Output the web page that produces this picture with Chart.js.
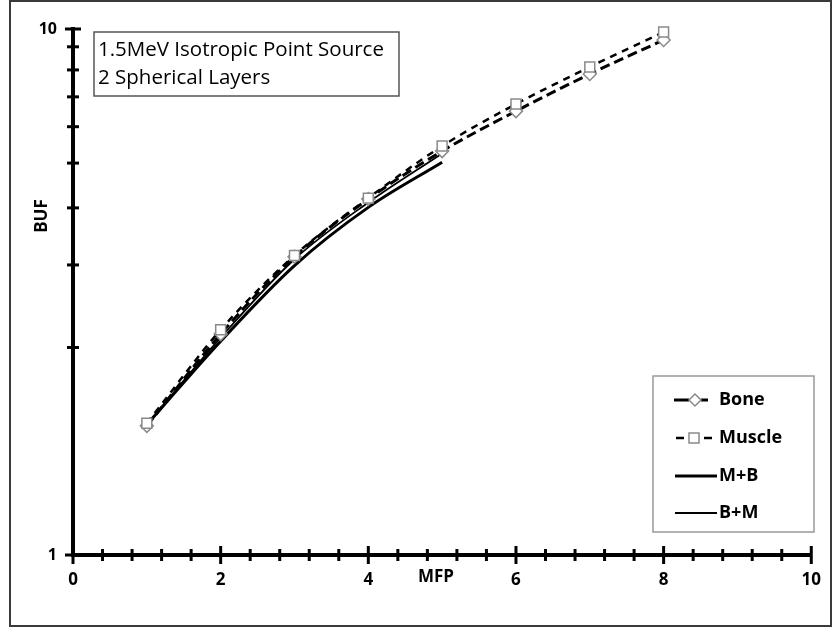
<!DOCTYPE html>
<html>
<head>
<meta charset="utf-8">
<script src="https://cdn.jsdelivr.net/npm/chart.js@4/dist/chart.umd.min.js"></script>
<style>
body{margin:0;background:#fff;}
canvas{display:block;}
</style>
</head>
<body>
<canvas id="grafico" width="836" height="630"></canvas>
<script>
// datos
const mfp = [1, 2, 3, 4, 5, 6, 7, 8];
const bone = [1.76, 2.63, 3.69, 4.75, 5.86, 6.98, 8.21, 9.53];
const muscle = [1.78, 2.68, 3.71, 4.77, 5.99, 7.20, 8.47, 9.87];
const mfpMix = [1, 2, 3, 4, 5];
const mPlusB = [1.77, 2.55, 3.55, 4.58, 5.58];
const bPlusM = [1.77, 2.59, 3.65, 4.68, 5.80];
const xLabels = [0, 2, 4, 6, 8, 10];
const yLabels = [1, 10];
// marcas del eje Y tal como aparecen en la figura
const yTickMarks = [1, 2.48, 3.56, 4.57, 5.56, 6.52, 7.43, 8.36, 9.25, 10];
const seriesNames = ["Bone", "Muscle", "M+B", "B+M"];
const titleLines = ["1.5MeV Isotropic Point Source", "2 Spherical Layers"];

const FONT = "'Open Sans', Lato, sans-serif";

function pts(xs, ys){
  return xs.map(function(x, i){ return {x: x, y: ys[i]}; });
}

/* marcas de los ejes, cruzando la linea */
const ticksPlugin = {
  id: "ticksCruzados",
  afterDraw(chart){
    const ctx = chart.ctx;
    const xs = chart.scales.x, ys = chart.scales.y;
    const area = chart.chartArea;
    ctx.save();
    ctx.strokeStyle = "#000";
    ctx.lineWidth = 3;
    xs.ticks.forEach(function(t){
      const px = xs.getPixelForValue(t.value);
      const major = Math.abs(t.value - Math.round(t.value)) < 1e-6 && Math.round(t.value) % 2 === 0;
      const h = major ? 9 : 6;
      ctx.beginPath();
      ctx.moveTo(px, area.bottom - h);
      ctx.lineTo(px, area.bottom + h);
      ctx.stroke();
    });
    ys.ticks.forEach(function(t){
      const py = ys.getPixelForValue(t.value);
      const big = yLabels.includes(t.value);
      const w = big ? 8 : 6;
      ctx.beginPath();
      ctx.moveTo(area.left - w, py);
      ctx.lineTo(area.left + w, py);
      ctx.stroke();
    });
    ctx.restore();
  }
};

/* textos, recuadro de titulo, leyenda y marco */
const decoPlugin = {
  id: "decoracion",
  afterDraw(chart){
    const ctx = chart.ctx;
    const ds = chart.data.datasets;
    ctx.save();

    // marco exterior
    ctx.strokeStyle = "#3a3a3a";
    ctx.lineWidth = 2;
    ctx.strokeRect(10, 1, 821, 625);

    // titulos de ejes
    ctx.fillStyle = "#000";
    ctx.font = "bold 17px " + FONT;
    ctx.textAlign = "center";
    ctx.textBaseline = "middle";
    ctx.fillText("MFP", 436, 577);
    ctx.save();
    ctx.translate(42, 216);
    ctx.rotate(-Math.PI / 2);
    ctx.fillText("BUF", 0, 0);
    ctx.restore();

    // recuadro del titulo
    ctx.strokeStyle = "#555";
    ctx.lineWidth = 1.5;
    ctx.strokeRect(94, 32, 305, 64);
    ctx.font = "20.5px " + FONT;
    ctx.textAlign = "left";
    ctx.fillStyle = "#000";
    ctx.fillText(titleLines[0], 98, 50);
    ctx.fillText(titleLines[1], 98, 78);

    // leyenda
    ctx.fillStyle = "#fff";
    ctx.fillRect(653, 376, 161, 156);
    ctx.strokeStyle = "#999";
    ctx.lineWidth = 1.5;
    ctx.strokeRect(653, 376, 161, 156);
    const rows = [400, 438, 476, 513];
    seriesNames.forEach(function(name, i){
      const d = ds[i];
      const y = rows[i];
      ctx.save();
      ctx.strokeStyle = "#000";
      ctx.lineWidth = d.borderWidth;
      if (d.borderDash && d.borderDash.length){
        if (d.pointStyle === "rect"){
          ctx.beginPath(); ctx.moveTo(676, y); ctx.lineTo(684, y); ctx.stroke();
          ctx.beginPath(); ctx.moveTo(704, y); ctx.lineTo(712, y); ctx.stroke();
        } else {
          ctx.beginPath(); ctx.moveTo(674, y); ctx.lineTo(689, y); ctx.stroke();
          ctx.beginPath(); ctx.moveTo(701, y); ctx.lineTo(708, y); ctx.stroke();
        }
        ctx.fillStyle = "#fff";
        ctx.strokeStyle = d.pointBorderColor;
        ctx.lineWidth = d.pointBorderWidth;
        ctx.beginPath();
        if (d.pointStyle === "rect"){
          ctx.rect(689, y - 5, 10, 10);
        } else {
          ctx.moveTo(695, y - 6); ctx.lineTo(701, y); ctx.lineTo(695, y + 6); ctx.lineTo(689, y); ctx.closePath();
        }
        ctx.fill(); ctx.stroke();
      } else {
        ctx.beginPath(); ctx.moveTo(675, y); ctx.lineTo(717, y); ctx.stroke();
      }
      ctx.restore();
      ctx.fillStyle = "#000";
      ctx.font = "bold 18px " + FONT;
      ctx.textAlign = "left";
      ctx.fillText(name, 719, y);
    });

    ctx.restore();
  }
};

new Chart(document.getElementById("grafico"), {
  type: "scatter",
  data: {
    datasets: [
      {
        label: seriesNames[0],
        data: pts(mfp, bone),
        showLine: true,
        clip: false,
        borderColor: "#000",
        borderWidth: 3,
        borderDash: [10, 5],
        cubicInterpolationMode: "monotone",
        pointStyle: "rectRot",
        pointRadius: 6.5,
        pointBorderColor: "#8a8a8a",
        pointBackgroundColor: "#fff",
        pointBorderWidth: 1.5,
        order: 1
      },
      {
        label: seriesNames[1],
        data: pts(mfp, muscle),
        showLine: true,
        clip: false,
        borderColor: "#000",
        borderWidth: 2.5,
        borderDash: [7, 6],
        cubicInterpolationMode: "monotone",
        pointStyle: "rect",
        pointRadius: 7,
        pointBorderColor: "#8a8a8a",
        pointBackgroundColor: "#fff",
        pointBorderWidth: 1.5,
        order: 0
      },
      {
        label: seriesNames[2],
        data: pts(mfpMix, mPlusB),
        showLine: true,
        borderColor: "#000",
        borderWidth: 3,
        cubicInterpolationMode: "monotone",
        pointRadius: 0,
        order: 2
      },
      {
        label: seriesNames[3],
        data: pts(mfpMix, bPlusM),
        showLine: true,
        borderColor: "#000",
        borderWidth: 1.8,
        cubicInterpolationMode: "monotone",
        pointRadius: 0,
        order: 3
      }
    ]
  },
  options: {
    responsive: false,
    animation: false,
    devicePixelRatio: 1,
    layout: { padding: { left: 0, top: 29, right: 19, bottom: 0 } },
    plugins: {
      legend: { display: false },
      tooltip: { enabled: false }
    },
    scales: {
      x: {
        type: "linear",
        min: 0,
        max: 10,
        afterFit(scale){ scale.height = 75; },
        border: { color: "#000", width: 4 },
        grid: { drawOnChartArea: false, drawTicks: false },
        ticks: {
          stepSize: 0.4,
          autoSkip: false,
          maxRotation: 0,
          padding: 15,
          color: "#000",
          font: { family: FONT, size: 17, weight: "bold" },
          callback(v){
            const r = Math.round(v);
            return (Math.abs(v - r) < 1e-6 && xLabels.includes(r)) ? String(r) : "";
          }
        }
      },
      y: {
        type: "logarithmic",
        min: 1,
        max: 10,
        afterFit(scale){ scale.width = 73; },
        afterBuildTicks(scale){
          scale.ticks = yTickMarks.map(function(v){ return {value: v}; });
        },
        border: { color: "#000", width: 4 },
        grid: { drawOnChartArea: false, drawTicks: false },
        ticks: {
          autoSkip: false,
          padding: 16,
          color: "#000",
          font: { family: FONT, size: 16, weight: "bold" },
          callback(v){ return yLabels.includes(v) ? String(v) : ""; }
        }
      }
    }
  },
  plugins: [ticksPlugin, decoPlugin]
});
</script>
</body>
</html>
